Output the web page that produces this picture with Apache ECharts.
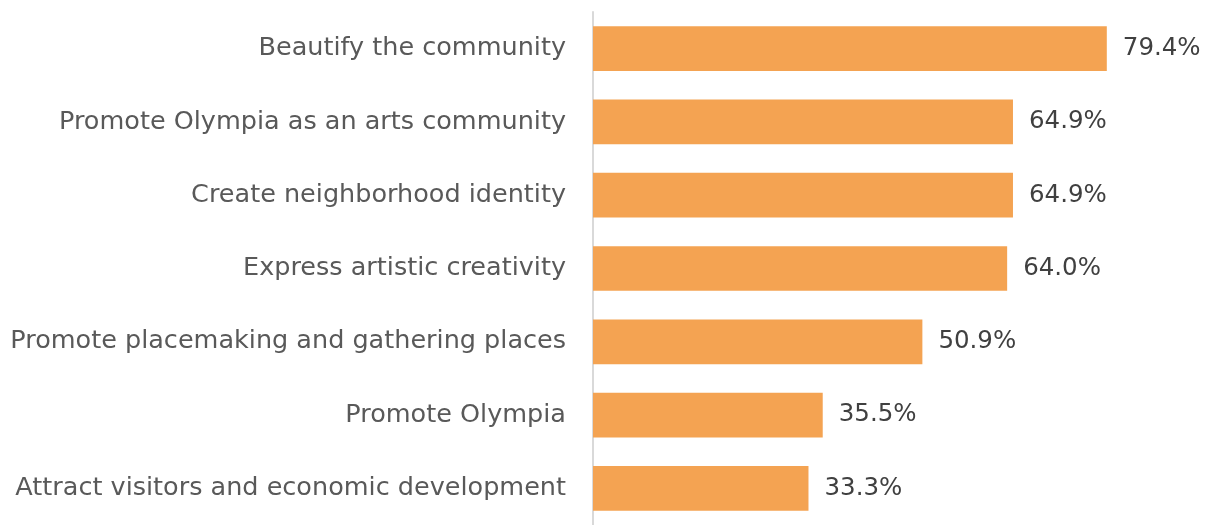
<!DOCTYPE html>
<html>
<head>
<meta charset="utf-8">
<script src="https://cdn.jsdelivr.net/npm/echarts@6/dist/echarts.min.js"></script>
<style>
html,body{margin:0;padding:0;background:#fff;}
#chart{width:1214px;height:525px;}
</style>
</head>
<body>
<div id="chart"></div>
<script>
const categories = [
  "Beautify the community",
  "Promote Olympia as an arts community",
  "Create neighborhood identity",
  "Express artistic creativity",
  "Promote placemaking and gathering places",
  "Promote Olympia",
  "Attract visitors and economic development"
];
const values = [79.4, 64.9, 64.9, 64.0, 50.9, 35.5, 33.3];

const chart = echarts.init(document.getElementById('chart'), null, {renderer: 'canvas'});
chart.setOption({
  animation: false,
  backgroundColor: '#ffffff',
  grid: {left: 593, width: 582.4, top: 12, height: 517, containLabel: false},
  xAxis: {
    type: 'value', min: 0, max: 90, show: false
  },
  yAxis: {
    type: 'category',
    data: categories,
    inverse: true,
    axisTick: {show: false},
    axisLine: {show: true, lineStyle: {color: '#d9d9d9', width: 2}},
    axisLabel: {
      margin: 27,
      color: '#595959',
      fontFamily: 'DejaVu Sans',
      fontSize: 25.5
    },
    splitLine: {show: false}
  },
  series: [{
    type: 'bar',
    data: values,
    barCategoryGap: '39%',
    itemStyle: {color: '#F4A352'},
    label: {
      show: true,
      position: 'right',
      distance: 16,
      color: '#404040',
      fontFamily: 'DejaVu Sans',
      fontSize: 24.5,
      formatter: p => p.value.toFixed(1) + '%'
    }
  }]
});
</script>
</body>
</html>
